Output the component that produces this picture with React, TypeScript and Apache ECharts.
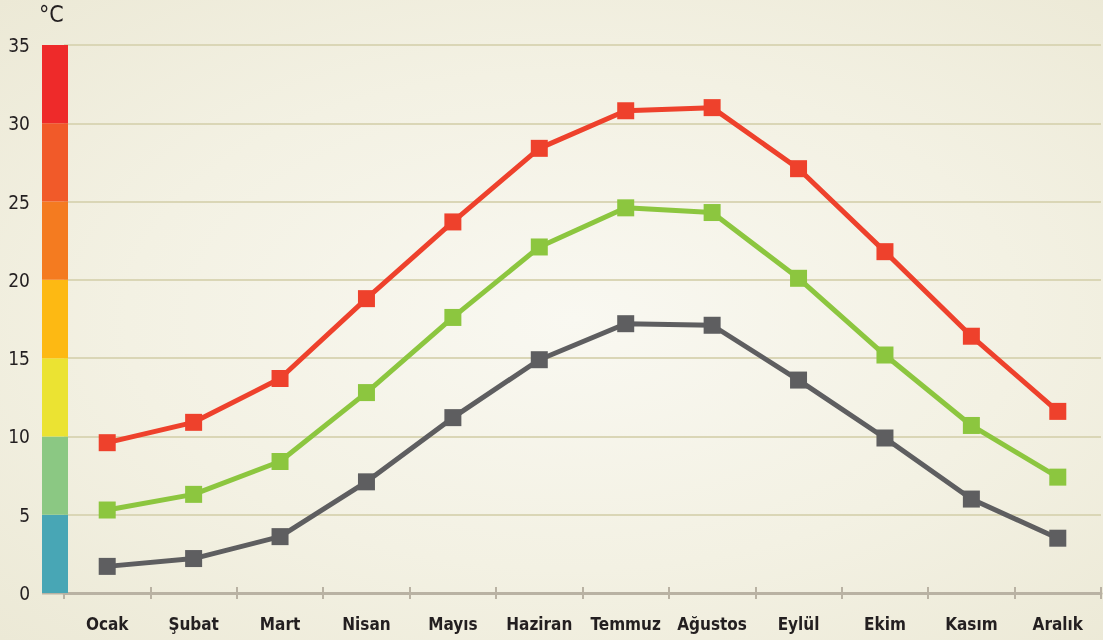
import React, { useEffect, useRef } from "react";
import * as echarts from "echarts";

const months = ["Ocak", "Şubat", "Mart", "Nisan", "Mayıs", "Haziran", "Temmuz", "Ağustos", "Eylül", "Ekim", "Kasım", "Aralık"];
const maxTemps = [9.6, 10.9, 13.7, 18.8, 23.7, 28.4, 30.8, 31.0, 27.1, 21.8, 16.4, 11.6];
const avgTemps = [5.3, 6.3, 8.4, 12.8, 17.6, 22.1, 24.6, 24.3, 20.1, 15.2, 10.7, 7.4];
const minTemps = [1.7, 2.2, 3.6, 7.1, 11.2, 14.9, 17.2, 17.1, 13.6, 9.9, 6.0, 3.5];
const scaleBands = [0, 5, 10, 15, 20, 25, 30, 35];
const bandColors = ["#48A6B5", "#8BC883", "#EBE332", "#FDB913", "#F47B20", "#F15A29", "#EE2A2A"];
const unitLabel = "°C";

const FONT = "'DejaVu Sans Condensed', 'Liberation Sans Narrow', 'Roboto', sans-serif";
const AXIS_COLOR = "#B9B2A3";

export default function App() {
  const ref = useRef<HTMLDivElement>(null);
  useEffect(() => {
    if (!ref.current) return;
    const chart = echarts.init(ref.current, null, { renderer: "svg" });
    const lineSeries = (name: string, data: number[], color: string) => ({
      name,
      type: "line",
      data,
      symbol: "rect",
      symbolSize: 17,
      lineStyle: { color, width: 5 },
      itemStyle: { color },
      z: 3,
    });
    chart.setOption({
      animation: false,
      backgroundColor: "transparent",
      grid: { left: 64, right: 2, top: 45, bottom: 47 },
      xAxis: [
        {
          type: "category",
          data: months,
          boundaryGap: true,
          axisLine: { lineStyle: { color: AXIS_COLOR, width: 3 } },
          axisTick: { show: true, interval: 0, length: 6, lineStyle: { color: AXIS_COLOR, width: 2 } },
          axisLabel: { interval: 0, color: "#231F20", fontSize: 17, fontFamily: FONT, fontWeight: "bold", margin: 22 },
          splitLine: { show: false },
        },
        {
          type: "category",
          data: months,
          position: "bottom",
          boundaryGap: true,
          axisLine: { show: false },
          axisTick: { show: true, interval: 0, inside: true, length: 6, lineStyle: { color: AXIS_COLOR, width: 2 } },
          axisLabel: { show: false, interval: 0 },
          splitLine: { show: false },
        },
      ],
      yAxis: {
        type: "value",
        min: 0,
        max: 35,
        interval: 5,
        axisLine: { show: false },
        axisTick: { show: false },
        axisLabel: { color: "#231F20", fontSize: 19, fontFamily: FONT, margin: 34 },
        splitLine: { lineStyle: { color: "#DAD6B6", width: 2 } },
      },
      series: [
        lineSeries("Maks", maxTemps, "#EE412C"),
        lineSeries("Ort", avgTemps, "#8CC63F"),
        lineSeries("Min", minTemps, "#5E5E60"),
      ],
    });
    const graphics: any[] = [];
    const y0 = chart.convertToPixel({ yAxisIndex: 0 }, 0) as number;
    graphics.push({
      type: "line",
      shape: { x1: 42, y1: y0, x2: 66, y2: y0 },
      style: { stroke: AXIS_COLOR, lineWidth: 3 },
      z: 9,
    });
    for (let i = 0; i < bandColors.length; i++) {
      const yTop = chart.convertToPixel({ yAxisIndex: 0 }, scaleBands[i + 1]) as number;
      const yBot = chart.convertToPixel({ yAxisIndex: 0 }, scaleBands[i]) as number;
      graphics.push({
        type: "rect",
        shape: { x: 42, y: yTop, width: 26, height: yBot - yTop },
        style: { fill: bandColors[i] },
        z: 10,
      });
    }
    graphics.push({
      type: "text",
      x: 39,
      y: 2,
      style: { text: unitLabel, fill: "#231F20", fontSize: 23, fontFamily: FONT },
      z: 10,
    });
    chart.setOption({ graphic: graphics });
    return () => chart.dispose();
  }, []);
  return (
    <div
      style={{
        position: "fixed",
        left: 0,
        top: 0,
        width: 1103,
        height: 640,
        background: "radial-gradient(ellipse at 52% 50%, #F9F8F1 0%, #F3F1E3 55%, #ECE9D6 100%)",
      }}
    >
      <div ref={ref} style={{ width: 1103, height: 640 }} />
    </div>
  );
}
